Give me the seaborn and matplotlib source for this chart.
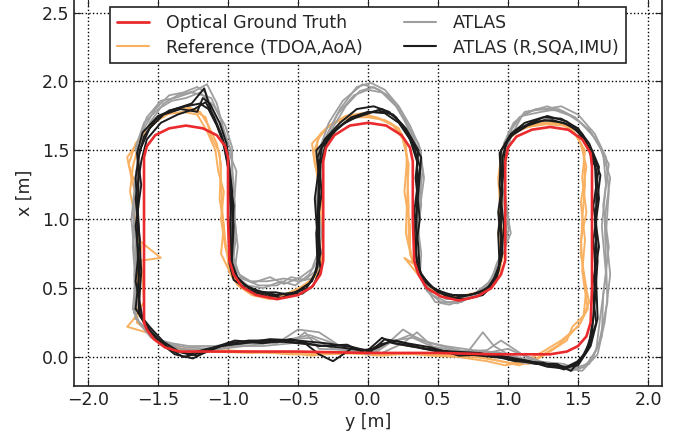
import numpy as np
import pandas as pd
import matplotlib
matplotlib.use("Agg")
import matplotlib.pyplot as plt
from matplotlib.lines import Line2D
import seaborn as sns

# (y, x) pairs, in metres
ground_truth = [(-1.60, 0.25), (-1.60, 0.80), (-1.60, 1.45), (-1.58, 1.53), (-1.52, 1.61), (-1.42, 1.66),
                (-1.30, 1.68), (-1.18, 1.66), (-1.08, 1.61), (-1.02, 1.53), (-1.00, 1.45), (-1.00, 1.00),
                (-0.99, 0.70), (-0.96, 0.60), (-0.90, 0.51), (-0.80, 0.45), (-0.65, 0.42), (-0.50, 0.45),
                (-0.40, 0.51), (-0.34, 0.60), (-0.32, 0.70), (-0.32, 1.00), (-0.32, 1.42), (-0.30, 1.52),
                (-0.24, 1.61), (-0.13, 1.68), (0.00, 1.70), (0.13, 1.68), (0.24, 1.61), (0.30, 1.52),
                (0.32, 1.42), (0.32, 1.00), (0.33, 0.70), (0.36, 0.60), (0.42, 0.50), (0.52, 0.44),
                (0.65, 0.41), (0.78, 0.44), (0.88, 0.50), (0.95, 0.60), (0.98, 0.70), (0.98, 1.00),
                (0.98, 1.42), (1.00, 1.52), (1.06, 1.60), (1.17, 1.65), (1.30, 1.67), (1.43, 1.65),
                (1.53, 1.58), (1.59, 1.48), (1.60, 1.38), (1.60, 1.00), (1.60, 0.50), (1.59, 0.25),
                (1.56, 0.15), (1.50, 0.08), (1.42, 0.04), (1.30, 0.02), (0.90, 0.02), (0.50, 0.03),
                (0.00, 0.03), (-0.50, 0.04), (-1.00, 0.04), (-1.35, 0.04), (-1.45, 0.07), (-1.53, 0.13),
                (-1.58, 0.20), (-1.60, 0.25)]

ref_lap1 = [(-1.67, 0.28), (-1.60, 0.40), (-1.62, 0.70), (-1.48, 0.72), (-1.64, 0.85), (-1.68, 1.05),
            (-1.66, 1.25), (-1.71, 1.40), (-1.66, 1.55), (-1.58, 1.66), (-1.48, 1.74), (-1.38, 1.80),
            (-1.26, 1.80), (-1.16, 1.74), (-1.12, 1.60), (-1.06, 1.48), (-1.05, 1.30), (-1.04, 1.05),
            (-1.02, 0.85), (-0.99, 0.62), (-0.93, 0.52), (-0.83, 0.45), (-0.70, 0.42), (-0.58, 0.46),
            (-0.45, 0.52), (-0.36, 0.60), (-0.32, 0.75), (-0.34, 1.05), (-0.36, 1.30), (-0.39, 1.48),
            (-0.34, 1.62), (-0.25, 1.70), (-0.12, 1.74), (0.00, 1.74), (0.12, 1.72), (0.22, 1.66),
            (0.27, 1.55), (0.28, 1.35), (0.29, 1.10), (0.29, 0.85), (0.32, 0.68), (0.26, 0.72),
            (0.34, 0.62), (0.42, 0.52), (0.52, 0.46), (0.65, 0.44), (0.78, 0.47), (0.88, 0.53),
            (0.94, 0.62), (0.97, 0.80), (0.94, 1.05), (0.96, 1.35), (0.98, 1.55), (1.05, 1.64),
            (1.18, 1.68), (1.30, 1.70), (1.42, 1.68), (1.50, 1.60), (1.54, 1.48), (1.55, 1.25),
            (1.53, 1.00), (1.52, 0.75), (1.56, 0.50), (1.54, 0.30), (1.46, 0.22), (1.42, 0.12),
            (1.30, 0.04), (1.15, -0.05), (1.00, -0.04), (0.80, 0.00), (0.60, 0.01), (0.40, 0.02),
            (0.20, 0.02), (0.00, 0.03), (-0.30, 0.02), (-0.55, 0.02), (-0.80, 0.04), (-1.05, 0.05),
            (-1.30, 0.04), (-1.45, 0.08), (-1.52, 0.16), (-1.72, 0.22), (-1.67, 0.28)]
ref_lap2 = [(-1.62, 0.30), (-1.65, 0.55), (-1.62, 0.80), (-1.66, 1.00), (-1.70, 1.20), (-1.68, 1.38),
            (-1.65, 1.50), (-1.60, 1.62), (-1.50, 1.72), (-1.40, 1.78), (-1.30, 1.82), (-1.20, 1.78),
            (-1.14, 1.68), (-1.08, 1.55), (-1.05, 1.40), (-1.06, 1.15), (-1.03, 0.95), (-1.05, 0.75),
            (-0.97, 0.58), (-0.88, 0.50), (-0.76, 0.44), (-0.64, 0.44), (-0.52, 0.48), (-0.42, 0.55),
            (-0.34, 0.66), (-0.35, 0.90), (-0.33, 1.20), (-0.38, 1.40), (-0.40, 1.55), (-0.30, 1.66),
            (-0.20, 1.72), (-0.06, 1.76), (0.06, 1.74), (0.16, 1.70), (0.24, 1.62), (0.28, 1.45),
            (0.26, 1.20), (0.30, 0.95), (0.30, 0.75), (0.36, 0.60), (0.44, 0.50), (0.56, 0.45),
            (0.70, 0.43), (0.82, 0.48), (0.90, 0.55), (0.95, 0.68), (0.93, 0.90), (0.97, 1.20),
            (0.94, 1.45), (1.00, 1.58), (1.10, 1.66), (1.24, 1.70), (1.36, 1.70), (1.46, 1.65),
            (1.52, 1.55), (1.56, 1.38), (1.52, 1.12), (1.55, 0.85), (1.53, 0.62), (1.58, 0.40),
            (1.52, 0.25), (1.44, 0.16), (1.35, 0.08), (1.22, 0.00), (1.08, -0.06), (0.90, -0.02),
            (0.70, 0.01), (0.50, 0.02), (0.30, 0.03), (0.10, 0.01), (-0.15, 0.03), (-0.45, 0.02),
            (-0.70, 0.03), (-0.95, 0.04), (-1.20, 0.05), (-1.38, 0.06), (-1.50, 0.12), (-1.58, 0.20),
            (-1.62, 0.30)]
ref_lap3 = [(-1.65, 0.25), (-1.63, 0.50), (-1.66, 0.78), (-1.64, 1.10), (-1.69, 1.30), (-1.72, 1.45),
            (-1.63, 1.58), (-1.55, 1.68), (-1.45, 1.76), (-1.32, 1.78), (-1.22, 1.76), (-1.15, 1.64),
            (-1.09, 1.50), (-1.07, 1.35), (-1.03, 1.20), (-1.05, 1.00), (-1.02, 0.80), (-0.98, 0.65),
            (-0.95, 0.55), (-0.86, 0.48), (-0.72, 0.44), (-0.60, 0.45), (-0.48, 0.50), (-0.38, 0.58),
            (-0.33, 0.70), (-0.36, 0.95), (-0.34, 1.25), (-0.37, 1.45), (-0.36, 1.58), (-0.28, 1.68),
            (-0.16, 1.75), (-0.04, 1.77), (0.08, 1.73), (0.18, 1.68), (0.25, 1.58), (0.29, 1.40),
            (0.28, 1.15), (0.27, 0.90), (0.31, 0.72), (0.38, 0.57), (0.47, 0.48), (0.60, 0.44),
            (0.74, 0.45), (0.85, 0.50), (0.92, 0.58), (0.96, 0.72), (0.95, 1.00), (0.93, 1.30),
            (0.96, 1.52), (1.03, 1.62), (1.14, 1.67), (1.27, 1.69), (1.40, 1.68), (1.48, 1.62),
            (1.55, 1.50), (1.53, 1.30), (1.56, 1.05), (1.52, 0.85), (1.54, 0.55), (1.57, 0.35),
            (1.50, 0.22), (1.38, 0.12), (1.25, 0.04), (1.12, -0.03), (0.98, -0.06), (0.85, -0.03),
            (0.65, 0.00), (0.45, 0.01), (0.25, 0.03), (0.05, 0.02), (-0.20, 0.04), (-0.40, 0.01),
            (-0.60, 0.04), (-0.85, 0.03), (-1.10, 0.04), (-1.32, 0.06), (-1.47, 0.10), (-1.56, 0.18),
            (-1.65, 0.25)]

atlas_lap1 = [(-1.66, 0.28), (-1.67, 0.60), (-1.64, 0.95), (-1.67, 1.25), (-1.63, 1.50), (-1.56, 1.70),
              (-1.46, 1.84), (-1.36, 1.90), (-1.24, 1.93), (-1.15, 1.98), (-1.08, 1.84), (-1.03, 1.65),
              (-0.98, 1.50), (-0.96, 1.25), (-0.95, 0.95), (-0.96, 0.72), (-0.92, 0.60), (-0.84, 0.55),
              (-0.72, 0.55), (-0.60, 0.57), (-0.50, 0.55), (-0.40, 0.57), (-0.35, 0.66), (-0.34, 0.90),
              (-0.36, 1.20), (-0.33, 1.45), (-0.26, 1.65), (-0.16, 1.82), (-0.06, 1.93), (0.04, 1.96),
              (0.14, 1.90), (0.24, 1.78), (0.30, 1.62), (0.38, 1.48), (0.37, 1.20), (0.36, 0.90),
              (0.36, 0.65), (0.40, 0.52), (0.48, 0.40), (0.58, 0.38), (0.70, 0.42), (0.80, 0.48),
              (0.88, 0.56), (0.92, 0.68), (0.98, 0.80), (1.02, 0.90), (0.98, 1.10), (0.96, 1.45),
              (1.00, 1.62), (1.08, 1.74), (1.20, 1.80), (1.34, 1.79), (1.48, 1.74), (1.60, 1.62),
              (1.68, 1.48), (1.70, 1.25), (1.67, 0.95), (1.70, 0.60), (1.66, 0.30), (1.63, 0.05),
              (1.55, -0.07), (1.45, -0.10), (1.32, -0.06), (1.10, -0.04), (0.90, 0.08), (0.82, 0.18),
              (0.70, 0.02), (0.50, 0.04), (0.35, 0.18), (0.25, 0.10), (0.10, 0.03), (-0.10, 0.05),
              (-0.35, 0.06), (-0.45, 0.18), (-0.55, 0.10), (-0.75, 0.08), (-1.00, 0.08), (-1.20, 0.05),
              (-1.35, 0.06), (-1.50, 0.13), (-1.60, 0.22), (-1.66, 0.28)]
atlas_lap2 = [(-1.68, 0.35), (-1.65, 0.70), (-1.68, 1.05), (-1.65, 1.35), (-1.65, 1.55), (-1.58, 1.74),
              (-1.48, 1.86), (-1.38, 1.88), (-1.26, 1.92), (-1.18, 1.90), (-1.12, 1.88), (-1.05, 1.72),
              (-1.02, 1.55), (-0.94, 1.35), (-0.96, 1.05), (-0.93, 0.80), (-0.95, 0.65), (-0.90, 0.57),
              (-0.78, 0.52), (-0.65, 0.52), (-0.55, 0.58), (-0.45, 0.56), (-0.38, 0.62), (-0.32, 0.80),
              (-0.35, 1.05), (-0.34, 1.35), (-0.31, 1.58), (-0.22, 1.76), (-0.10, 1.90), (0.00, 1.94),
              (0.10, 1.92), (0.20, 1.82), (0.28, 1.68), (0.36, 1.55), (0.39, 1.35), (0.35, 1.00),
              (0.38, 0.75), (0.37, 0.58), (0.45, 0.48), (0.56, 0.42), (0.68, 0.43), (0.78, 0.45),
              (0.86, 0.52), (0.92, 0.62), (0.96, 0.75), (1.00, 1.00), (0.95, 1.30), (0.97, 1.55),
              (1.04, 1.70), (1.14, 1.78), (1.28, 1.82), (1.40, 1.78), (1.52, 1.70), (1.63, 1.58),
              (1.72, 1.40), (1.68, 1.10), (1.72, 0.80), (1.68, 0.45), (1.67, 0.15), (1.60, -0.02),
              (1.50, -0.09), (1.40, -0.05), (1.20, -0.03), (1.00, 0.06), (0.80, 0.02), (0.60, 0.06),
              (0.45, 0.10), (0.30, 0.16), (0.15, 0.10), (0.00, 0.02), (-0.20, 0.08), (-0.35, 0.18),
              (-0.50, 0.20), (-0.65, 0.10), (-0.90, 0.10), (-1.10, 0.08), (-1.28, 0.08), (-1.40, 0.10),
              (-1.55, 0.14), (-1.63, 0.24), (-1.68, 0.35)]
atlas_lap3 = [(-1.65, 0.40), (-1.68, 0.80), (-1.66, 1.15), (-1.64, 1.40), (-1.66, 1.52), (-1.60, 1.70),
              (-1.50, 1.80), (-1.40, 1.86), (-1.30, 1.88), (-1.20, 1.92), (-1.10, 1.82), (-1.02, 1.68),
              (-0.97, 1.52), (-0.97, 1.20), (-0.94, 0.88), (-0.97, 0.68), (-0.93, 0.58), (-0.86, 0.52),
              (-0.75, 0.50), (-0.62, 0.55), (-0.52, 0.52), (-0.42, 0.60), (-0.36, 0.70), (-0.36, 0.95),
              (-0.33, 1.25), (-0.35, 1.50), (-0.28, 1.70), (-0.18, 1.86), (-0.04, 1.98), (0.08, 1.94),
              (0.18, 1.86), (0.26, 1.74), (0.33, 1.58), (0.37, 1.40), (0.38, 1.10), (0.34, 0.80),
              (0.36, 0.62), (0.42, 0.48), (0.52, 0.40), (0.64, 0.39), (0.74, 0.44), (0.84, 0.50),
              (0.90, 0.60), (0.94, 0.72), (0.99, 0.88), (0.97, 1.15), (0.98, 1.40), (1.02, 1.60),
              (1.10, 1.75), (1.24, 1.78), (1.36, 1.80), (1.46, 1.75), (1.58, 1.65), (1.66, 1.52),
              (1.73, 1.30), (1.69, 1.00), (1.70, 0.70), (1.71, 0.40), (1.65, 0.10), (1.58, -0.05),
              (1.46, -0.08), (1.35, -0.07), (1.15, -0.02), (0.95, 0.03), (0.75, 0.05), (0.55, 0.08),
              (0.38, 0.12), (0.25, 0.20), (0.12, 0.08), (-0.05, 0.04), (-0.25, 0.06), (-0.40, 0.14),
              (-0.55, 0.13), (-0.80, 0.09), (-1.05, 0.06), (-1.25, 0.04), (-1.42, 0.08), (-1.52, 0.16),
              (-1.62, 0.30), (-1.65, 0.40)]
atlas_lap4 = [(-1.67, 0.32), (-1.66, 0.65), (-1.69, 1.00), (-1.66, 1.30), (-1.64, 1.48), (-1.60, 1.66),
              (-1.52, 1.80), (-1.42, 1.90), (-1.32, 1.92), (-1.22, 1.96), (-1.16, 1.92), (-1.10, 1.76),
              (-1.04, 1.60), (-0.99, 1.40), (-0.95, 1.10), (-0.97, 0.85), (-0.96, 0.68), (-0.91, 0.58),
              (-0.82, 0.54), (-0.70, 0.58), (-0.60, 0.53), (-0.48, 0.58), (-0.40, 0.64), (-0.35, 0.78),
              (-0.37, 1.10), (-0.34, 1.40), (-0.29, 1.62), (-0.20, 1.80), (-0.08, 1.96), (0.02, 1.99),
              (0.12, 1.94), (0.22, 1.82), (0.30, 1.68), (0.37, 1.52), (0.40, 1.30), (0.36, 1.00),
              (0.35, 0.70), (0.38, 0.56), (0.46, 0.45), (0.56, 0.40), (0.67, 0.40), (0.76, 0.46),
              (0.86, 0.54), (0.93, 0.66), (0.97, 0.78), (1.01, 0.95), (0.97, 1.25), (0.99, 1.50),
              (1.03, 1.66), (1.12, 1.78), (1.26, 1.80), (1.38, 1.82), (1.50, 1.76), (1.62, 1.62),
              (1.70, 1.45), (1.72, 1.20), (1.70, 0.90), (1.73, 0.60), (1.69, 0.25), (1.64, 0.02),
              (1.53, -0.10), (1.42, -0.08), (1.28, -0.05), (1.10, 0.02), (0.95, 0.12), (0.85, 0.05),
              (0.65, 0.04), (0.45, 0.08), (0.32, 0.14), (0.18, 0.12), (0.05, 0.03), (-0.15, 0.06),
              (-0.30, 0.12), (-0.42, 0.16), (-0.60, 0.12), (-0.85, 0.10), (-1.10, 0.06), (-1.30, 0.07),
              (-1.45, 0.10), (-1.56, 0.18), (-1.64, 0.26), (-1.67, 0.32)]

imu_lap1 = [(-1.63, 0.30), (-1.64, 0.60), (-1.65, 0.90), (-1.64, 1.20), (-1.64, 1.45), (-1.60, 1.60),
            (-1.52, 1.72), (-1.42, 1.79), (-1.30, 1.82), (-1.20, 1.84), (-1.14, 1.80), (-1.08, 1.68),
            (-1.02, 1.52), (-0.99, 1.30), (-0.98, 1.00), (-0.98, 0.72), (-0.95, 0.60), (-0.88, 0.52),
            (-0.78, 0.48), (-0.65, 0.45), (-0.52, 0.47), (-0.42, 0.53), (-0.37, 0.62), (-0.35, 0.80),
            (-0.35, 1.10), (-0.34, 1.40), (-0.30, 1.55), (-0.22, 1.66), (-0.12, 1.74), (0.00, 1.78),
            (0.12, 1.77), (0.22, 1.70), (0.30, 1.58), (0.35, 1.42), (0.35, 1.10), (0.34, 0.75),
            (0.38, 0.60), (0.45, 0.51), (0.55, 0.46), (0.68, 0.44), (0.80, 0.47), (0.89, 0.53),
            (0.93, 0.62), (0.95, 0.80), (0.95, 1.10), (0.96, 1.45), (1.00, 1.58), (1.08, 1.66),
            (1.20, 1.71), (1.32, 1.72), (1.45, 1.68), (1.55, 1.58), (1.62, 1.42), (1.63, 1.20),
            (1.63, 0.90), (1.62, 0.60), (1.61, 0.30), (1.58, 0.10), (1.52, -0.02), (1.42, -0.07),
            (1.30, -0.06), (1.10, -0.02), (0.90, 0.00), (0.70, 0.02), (0.50, 0.05), (0.30, 0.08),
            (0.15, 0.11), (0.05, 0.06), (-0.05, 0.05), (-0.20, 0.07), (-0.40, 0.09), (-0.60, 0.11),
            (-0.80, 0.11), (-1.00, 0.09), (-1.15, 0.06), (-1.28, 0.02), (-1.40, 0.05), (-1.50, 0.13),
            (-1.58, 0.22), (-1.63, 0.30)]
imu_lap2 = [(-1.66, 0.35), (-1.63, 0.65), (-1.66, 0.95), (-1.62, 1.25), (-1.65, 1.48), (-1.61, 1.63),
            (-1.50, 1.75), (-1.38, 1.80), (-1.26, 1.84), (-1.17, 1.95), (-1.12, 1.78), (-1.05, 1.62),
            (-1.00, 1.45), (-0.97, 1.20), (-0.99, 0.90), (-0.97, 0.68), (-0.93, 0.57), (-0.85, 0.50),
            (-0.74, 0.46), (-0.62, 0.43), (-0.50, 0.48), (-0.40, 0.55), (-0.36, 0.66), (-0.37, 0.90),
            (-0.33, 1.20), (-0.36, 1.45), (-0.31, 1.58), (-0.20, 1.70), (-0.08, 1.80), (0.04, 1.82),
            (0.15, 1.78), (0.25, 1.68), (0.33, 1.52), (0.37, 1.38), (0.33, 1.05), (0.36, 0.80),
            (0.37, 0.62), (0.44, 0.52), (0.56, 0.44), (0.70, 0.42), (0.82, 0.45), (0.91, 0.54),
            (0.94, 0.66), (0.93, 0.90), (0.96, 1.20), (0.94, 1.48), (1.02, 1.62), (1.12, 1.70),
            (1.25, 1.74), (1.38, 1.73), (1.50, 1.66), (1.58, 1.55), (1.65, 1.38), (1.61, 1.10),
            (1.65, 0.80), (1.60, 0.50), (1.63, 0.25), (1.57, 0.05), (1.48, -0.05), (1.40, -0.09),
            (1.25, -0.04), (1.05, -0.03), (0.85, 0.02), (0.65, 0.01), (0.45, 0.07), (0.28, 0.10),
            (0.12, 0.13), (0.02, 0.04), (-0.10, 0.07), (-0.30, 0.10), (-0.50, 0.12), (-0.70, 0.13),
            (-0.90, 0.10), (-1.05, 0.08), (-1.20, 0.03), (-1.32, 0.00), (-1.45, 0.08), (-1.55, 0.18),
            (-1.66, 0.35)]
imu_lap3 = [(-1.61, 0.28), (-1.66, 0.55), (-1.63, 0.85), (-1.66, 1.15), (-1.62, 1.42), (-1.58, 1.58),
            (-1.48, 1.70), (-1.36, 1.76), (-1.24, 1.80), (-1.16, 1.85), (-1.10, 1.74), (-1.04, 1.58),
            (-1.00, 1.38), (-0.96, 1.10), (-0.97, 0.82), (-0.99, 0.68), (-0.96, 0.56), (-0.86, 0.49),
            (-0.72, 0.44), (-0.60, 0.46), (-0.47, 0.46), (-0.39, 0.52), (-0.34, 0.64), (-0.36, 0.85),
            (-0.38, 1.15), (-0.35, 1.38), (-0.33, 1.52), (-0.25, 1.63), (-0.14, 1.72), (-0.02, 1.76),
            (0.10, 1.80), (0.20, 1.74), (0.28, 1.62), (0.38, 1.45), (0.36, 1.20), (0.33, 0.90),
            (0.35, 0.68), (0.40, 0.55), (0.50, 0.47), (0.62, 0.43), (0.76, 0.46), (0.86, 0.50),
            (0.92, 0.60), (0.96, 0.75), (0.93, 1.05), (0.97, 1.35), (0.98, 1.55), (1.05, 1.64),
            (1.16, 1.70), (1.28, 1.75), (1.42, 1.71), (1.53, 1.62), (1.60, 1.48), (1.66, 1.32),
            (1.62, 1.00), (1.64, 0.70), (1.62, 0.40), (1.60, 0.18), (1.55, 0.02), (1.45, -0.10),
            (1.35, -0.05), (1.20, -0.05), (1.00, -0.01), (0.80, 0.03), (0.60, 0.04), (0.40, 0.06),
            (0.20, 0.12), (0.08, 0.09), (-0.02, 0.03), (-0.15, 0.09), (-0.35, 0.08), (-0.55, 0.13),
            (-0.75, 0.10), (-0.95, 0.12), (-1.10, 0.07), (-1.25, -0.01), (-1.38, 0.02), (-1.48, 0.10),
            (-1.57, 0.20), (-1.61, 0.28)]
imu_lap4 = [(-1.64, 0.32), (-1.62, 0.62), (-1.64, 1.00), (-1.66, 1.30), (-1.63, 1.50), (-1.56, 1.66),
            (-1.46, 1.76), (-1.34, 1.80), (-1.22, 1.78), (-1.18, 1.88), (-1.13, 1.84), (-1.06, 1.70),
            (-1.01, 1.55), (-0.98, 1.25), (-0.96, 0.95), (-0.97, 0.75), (-0.98, 0.63), (-0.90, 0.54),
            (-0.80, 0.47), (-0.66, 0.47), (-0.55, 0.45), (-0.44, 0.50), (-0.38, 0.60), (-0.34, 0.75),
            (-0.36, 1.00), (-0.35, 1.30), (-0.37, 1.50), (-0.28, 1.60), (-0.18, 1.69), (-0.05, 1.76),
            (0.07, 1.79), (0.18, 1.76), (0.27, 1.66), (0.36, 1.50), (0.34, 1.30), (0.37, 1.00),
            (0.33, 0.70), (0.39, 0.58), (0.48, 0.49), (0.60, 0.45), (0.72, 0.45), (0.84, 0.48),
            (0.90, 0.57), (0.95, 0.70), (0.97, 0.95), (0.94, 1.25), (0.95, 1.50), (1.03, 1.61),
            (1.14, 1.68), (1.26, 1.72), (1.40, 1.70), (1.50, 1.64), (1.57, 1.52), (1.63, 1.36),
            (1.65, 1.15), (1.61, 0.85), (1.63, 0.55), (1.64, 0.28), (1.59, 0.08), (1.50, -0.06),
            (1.38, -0.08), (1.28, -0.07), (1.15, -0.03), (0.95, 0.01), (0.75, 0.03), (0.55, 0.03),
            (0.35, 0.07), (0.18, 0.10), (0.10, 0.14), (0.00, 0.05), (-0.12, 0.06), (-0.25, -0.03),
            (-0.35, 0.02), (-0.45, 0.10), (-0.65, 0.12), (-0.85, 0.12), (-1.00, 0.10), (-1.12, 0.05),
            (-1.22, 0.01), (-1.35, 0.04), (-1.46, 0.11), (-1.56, 0.22), (-1.64, 0.32)]

labels = ['Optical Ground Truth', 'Reference (TDOA,AoA)', 'ATLAS', 'ATLAS (R,SQA,IMU)']
colors = ['#ea2a2c', '#f9b061', '#9e9e9e', '#1c1c1c']


def to_frame(laps):
    rows = []
    for i, lap in enumerate(laps):
        for y, x in lap:
            rows.append({'y': y, 'x': x, 'lap': i})
    return pd.DataFrame(rows)


sns.set_style('ticks', {'xtick.direction': 'in', 'ytick.direction': 'in'})
plt.rcParams['font.family'] = ['DejaVu Sans']
plt.rcParams['font.size'] = 12.5

fig = plt.figure(figsize=(6.81, 4.41), dpi=100)
ax = fig.add_axes([0.1087, 0.1247, 0.8634, 0.878])

series = [(ref_lap1, ref_lap2, ref_lap3),
          (atlas_lap1, atlas_lap2, atlas_lap3, atlas_lap4),
          (imu_lap1, imu_lap2, imu_lap3, imu_lap4)]
widths = [1.4, 1.3, 1.4]
for k, laps in enumerate(series):
    sns.lineplot(data=to_frame(laps), x='y', y='x', units='lap', estimator=None, sort=False,
                 color=colors[k + 1], lw=widths[k], ax=ax, legend=False, zorder=2 + k)
sns.lineplot(data=to_frame([ground_truth]), x='y', y='x', units='lap', estimator=None, sort=False,
             color=colors[0], lw=1.9, ax=ax, legend=False, zorder=6)

ax.set_xlim(-2.1, 2.1)
ax.set_ylim(-0.21, 2.6)
ax.set_xticks(np.arange(-2.0, 2.01, 0.5))
ax.set_yticks(np.arange(0.0, 2.51, 0.5))
ax.grid(True, color='black', linestyle=':', linewidth=1.0)
ax.tick_params(direction='in', top=True, right=True, length=5, labelsize=12.5, colors='#222222')
for s in ax.spines.values():
    s.set_color('#222222')
    s.set_linewidth(1.2)
ax.set_xlabel('y [m]', fontsize=12.5, labelpad=3)
ax.set_ylabel('x [m]', fontsize=12.5, labelpad=6)

handles = [Line2D([], [], color=colors[0], lw=2.0),
           Line2D([], [], color=colors[1], lw=1.5),
           Line2D([], [], color=colors[2], lw=1.5),
           Line2D([], [], color=colors[3], lw=1.5)]
leg = ax.legend(handles, labels, loc='upper center', ncol=2, fontsize=12.5, frameon=True,
                fancybox=False, edgecolor='#222222', framealpha=1.0, columnspacing=2.4,
                handlelength=1.8, handletextpad=1.0, labelspacing=0.35,
                bbox_to_anchor=(0.5, 1.0))
leg.get_frame().set_linewidth(1.2)

fig.savefig('out.png', dpi=100)
